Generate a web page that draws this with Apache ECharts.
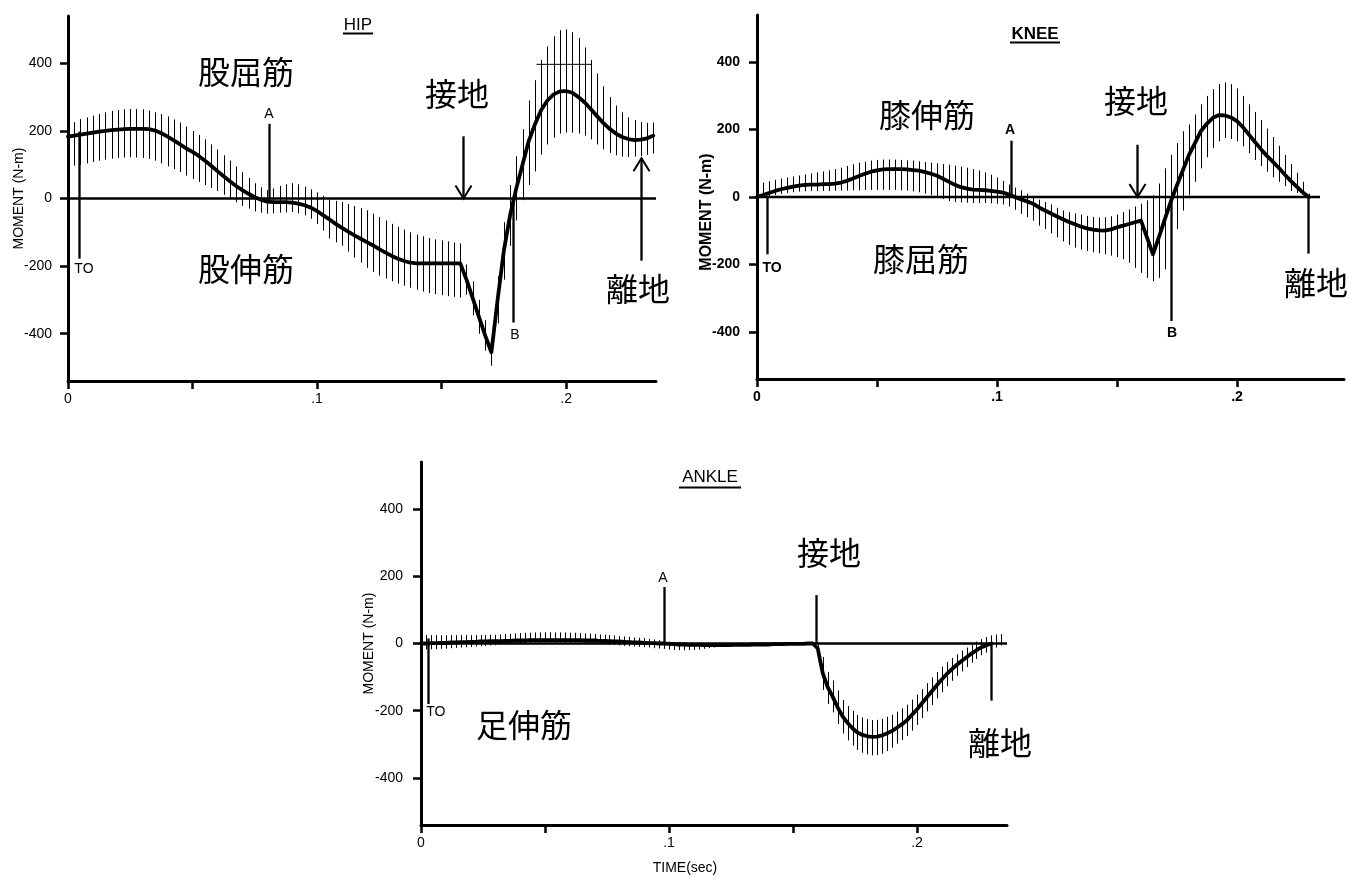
<!DOCTYPE html>
<html><head><meta charset="utf-8">
<script src="https://cdn.jsdelivr.net/npm/echarts@6/dist/echarts.min.js"></script>
<style>html,body{margin:0;padding:0;background:#fff}#c{width:1352px;height:878px}</style>
</head><body><div id="c"></div>
<script>
// ---------------- DATA ----------------
// sample clocks (s)
const TIME_25 = [0,0.0025,0.005,0.0075,0.01,0.0125,0.015,0.0175,0.02,0.0225,0.025,0.0275,0.03,0.0325,0.035,0.0375,0.04,0.0425,0.045,0.0475,0.05,0.0525,0.055,0.0575,0.06,0.0625,0.065,0.0675,0.07,0.0725,0.075,0.0775,0.08,0.0825,0.085,0.0875,0.09,0.0925,0.095,0.0975,0.1,0.1025,0.105,0.1075,0.11,0.1125,0.115,0.1175,0.12,0.1225,0.125,0.1275,0.13,0.1325,0.135,0.1375,0.14,0.1425,0.145,0.1475,0.15,0.1525,0.155,0.1575,0.16,0.1625,0.165,0.1675,0.17,0.1725,0.175,0.1775,0.18,0.1825,0.185,0.1875,0.19,0.1925,0.195,0.1975,0.2,0.2025,0.205,0.2075,0.21,0.2125,0.215,0.2175,0.22,0.2225,0.225,0.2275,0.23,0.2325,0.235];
const TIME_20 = [0,0.002,0.004,0.006,0.008,0.01,0.012,0.014,0.016,0.018,0.02,0.022,0.024,0.026,0.028,0.03,0.032,0.034,0.036,0.038,0.04,0.042,0.044,0.046,0.048,0.05,0.052,0.054,0.056,0.058,0.06,0.062,0.064,0.066,0.068,0.07,0.072,0.074,0.076,0.078,0.08,0.082,0.084,0.086,0.088,0.09,0.092,0.094,0.096,0.098,0.1,0.102,0.104,0.106,0.108,0.11,0.112,0.114,0.116,0.118,0.12,0.122,0.124,0.126,0.128,0.13,0.132,0.134,0.136,0.138,0.14,0.142,0.144,0.146,0.148,0.15,0.152,0.154,0.156,0.158,0.16,0.162,0.164,0.166,0.168,0.17,0.172,0.174,0.176,0.178,0.18,0.182,0.184,0.186,0.188,0.19,0.192,0.194,0.196,0.198,0.2,0.202,0.204,0.206,0.208,0.21,0.212,0.214,0.216,0.218,0.22,0.222,0.224,0.226,0.228,0.23,0.232,0.234];

// HIP moment (N-m): mean, mean+SD, mean-SD
const hipMean = [183,186,189,192,195,198,200,202,204,205, 206,206,206,205,201,193,183,172,160,148, 138,126,112,97,81,66,51,37,25,14, 4,-4,-9,-11,-11,-11,-12,-15,-20,-27, -37,-50,-62,-75,-87,-98,-109,-119,-129,-139, -150,-160,-170,-178,-185,-190,-192,-192,-192,-192, -192,-192,-192,-192,-240,-295,-350,-405,-455,-300, -155,-50,30,100,170,220,262,290,308,317, 318,313,300,284,264,243,223,206,192,182, 176,173,174,178,186];
const hipHigh = [215,226,235,240,245,250,255,259,262,264, 265,265,264,260,255,250,243,234,225,213, 200,188,175,160,145,128,112,95,78,61, 45,33,25,30,37,42,45,42,35,27, 18,8,-3,-7,-10,-16,-22,-28,-35,-45, -55,-65,-75,-84,-92,-100,-107,-112,-117,-121, -124,-127,-130,-133,-195,-245,-300,-360,-415,-230, -70,40,125,205,290,350,410,450,480,498, 500,492,475,447,410,370,332,300,275,255, 240,232,226,224,225];
const hipLow = [95,97,100,104,108,112,115,118,120,121, 122,121,120,117,112,104,95,87,78,68, 58,49,40,31,22,11,0,-11,-22,-30, -38,-42,-45,-44,-42,-41,-40,-44,-50,-60, -75,-95,-118,-130,-140,-157,-175,-190,-205,-217, -228,-237,-245,-252,-258,-264,-270,-275,-280,-283, -286,-289,-291,-293,-285,-345,-400,-450,-495,-370, -240,-140,-65,-5,40,80,130,160,180,192, 195,195,192,186,175,160,145,135,128,124, 123,124,126,129,133];

// KNEE moment (N-m)
const kneeMean = [0,6,12,18,23,27,31,34,36,37, 37,38,38,40,43,48,55,62,69,75, 79,82,83,83,83,82,80,78,74,69, 63,54,45,36,29,25,22,21,20,18, 16,13,7,0,-7,-13,-20,-31,-40,-49, -58,-66,-74,-81,-88,-93,-97,-99,-100,-96, -90,-85,-80,-75,-70,-120,-170,-118,-65,-12, 35,80,125,160,196,218,235,243,242,236, 225,207,185,163,142,122,104,86,66,47, 30,13,0];
const kneeHigh = [30,43,47,51,55,58,61,64,67,70, 73,76,79,83,87,92,97,102,105,108, 110,111,111,111,110,109,108,106,104,102, 100,98,96,93,90,87,83,79,73,66, 58,48,37,28,20,10,0,-8,-15,-22, -32,-40,-45,-49,-52,-56,-59,-61,-60,-57, -52,-45,-37,-28,-20,-10,5,40,85,125, 160,195,215,245,275,300,320,335,340,335, 322,300,275,252,228,203,178,152,125,98, 72,45,10];
const kneeLow = [-5,0,3,6,9,12,14,16,17,18, 18,18,18,18,19,19,20,20,21,21, 21,21,21,21,20,19,17,14,10,5, 0,-6,-12,-15,-16,-17,-18,-18,-18,-19, -20,-22,-28,-38,-50,-60,-70,-85,-95,-108, -120,-132,-142,-150,-156,-160,-164,-167,-170,-174, -178,-185,-195,-210,-225,-240,-250,-240,-215,-160, -95,-40,5,45,85,118,145,165,175,172, 165,150,130,110,92,75,58,45,32,18, 12,8,-5];

// ANKLE moment (N-m)
const ankleMean = [0,0,1,1,2,2,3,3,4,4, 5,5,6,6,7,7,7,8,8,9, 9,9,10,10,10,10,10,10,10,10, 10,10,10,9,9,9,8,8,7,6, 6,5,4,3,3,2,1,1,0,0, -1,-2,-3,-3,-4,-4,-4,-5,-5,-5, -5,-5,-5,-4,-4,-4,-4,-3,-3,-3, -3,-2,-2,-2,-1,-1,-1,-1,0,0, -15,-88,-130,-158,-190,-217,-236,-252,-265,-272, -276,-278,-277,-273,-267,-260,-250,-240,-228,-212, -196,-178,-160,-142,-124,-107,-91,-77,-64,-52, -41,-30,-20,-11,-5,0];
const ankleHigh = [25,25,25,25,25,25,25,25,25,25, 25,25,25,25,26,26,27,28,29,30, 31,32,32,33,33,33,33,33,33,33, 32,32,31,30,29,28,27,26,25,24, 22,21,20,18,17,16,14,12,10,8, 6,4,3,2,1,0,0,-1,-1,-2, -2,-2,-2,-2,-2,-2,-2,-1,-1,-1, -1,0,0,0,1,1,1,1,2,2, 0,-40,-85,-110,-140,-168,-186,-200,-213,-220, -225,-228,-227,-224,-218,-212,-203,-193,-182,-167, -152,-136,-118,-101,-85,-69,-55,-43,-32,-21, -12,-3,6,13,19,24,27,28];
const ankleLow = [-18,-18,-17,-17,-16,-15,-14,-13,-12,-11, -10,-9,-8,-7,-6,-5,-4,-3,-2,-2, -1,-1,0,0,0,0,0,0,0,0, 0,0,0,0,-1,-1,-2,-3,-4,-5, -6,-7,-8,-9,-10,-11,-12,-14,-15,-16, -18,-19,-20,-20,-20,-19,-18,-16,-14,-12, -10,-9,-8,-7,-6,-6,-6,-5,-5,-5, -5,-4,-4,-4,-3,-3,-3,-3,-2,-2, -50,-138,-180,-205,-240,-268,-288,-304,-317,-325, -330,-333,-332,-328,-320,-310,-298,-287,-275,-259, -242,-222,-202,-183,-163,-145,-127,-111,-96,-83, -70,-57,-46,-35,-27,-20,-12,-6];

// tick values / labels
const Y_TICKS = [-400,-200,0,200,400];
const X_TICKS = [0,0.05,0.1,0.15,0.2];
const X_LABEL_VALUES = [0,0.1,0.2];
const X_LABEL_TEXT = ['0','.1','.2'];
const PANEL_TITLES = ['HIP','KNEE','ANKLE'];
const Y_NAME = 'MOMENT (N-m)';
const X_NAME = 'TIME(sec)';

// event markers: [time, from value, to value]; heads: arrowhead at the "to" end
const hipMarkers = [[0.0044,198,-178],[0.0808,221,-8],[0.1788,0,-367],[0.1585,184,0],[0.2302,-184,119]];
const hipHeads = ['none','none','none','down','up'];
const hipBar = [[0.1881,397],[0.2103,397]];
const hipTexts = [['TO',0.0064,-208],['A',0.0807,251],['B',0.1795,-404],['股屈筋',0.0715,376],['股伸筋',0.0715,-208],['接地',0.1562,310],['離地',0.2289,-267]];

const kneeMarkers = [[0.0043,0,-170],[0.1057,167,0],[0.1726,0,-368],[0.1585,155,0],[0.2294,0,-168]];
const kneeHeads = ['none','none','none','down','none'];
const kneeTexts = [['TO',0.00625,-210],['A',0.1054,198],['B',0.1729,-403],['膝伸筋',0.0708,245],['膝屈筋',0.0683,-183],['接地',0.1579,284],['離地',0.2329,-254]];

const ankleMarkers = [[0.0027,15,-180],[0.098,168,0],[0.1593,144,0],[0.2298,0,-170]];
const ankleHeads = ['none','none','none','none'];
const ankleTexts = [['TO',0.006,-205],['A',0.0976,195],['足伸筋',0.0415,-241],['接地',0.1645,269],['離地',0.2335,-297]];

const ZERO_END = [0.2361,0.2346,0.2363];

// ---------------- LAYOUT / STYLE ----------------
const LATIN = '"Liberation Sans", Arial, Helvetica, sans-serif';
const CJK = '"Noto Sans CJK JP", "Noto Sans CJK SC", sans-serif';

const PANELS = [
  {grid:{left:68, top:16, width:588, height:365}, xMax:0.2361, bold:false, nameGap:42, nameSize:14, namePad:[0,0,0,0], yMargin:16,
   time:TIME_25, mean:hipMean, hi:hipHigh, lo:hipLow, markers:hipMarkers, heads:hipHeads, texts:hipTexts, bar:hipBar},
  {grid:{left:757, top:15, width:587, height:364}, xMax:0.2446, bold:true, nameGap:42, nameSize:16, namePad:[0,30,0,0], yMargin:17,
   time:TIME_25, mean:kneeMean, hi:kneeHigh, lo:kneeLow, markers:kneeMarkers, heads:kneeHeads, texts:kneeTexts},
  {grid:{left:421, top:462, width:586, height:363}, xMax:0.2363, bold:false, nameGap:45, nameSize:14, namePad:[0,0,0,0], yMargin:18,
   time:TIME_20, mean:ankleMean, hi:ankleHigh, lo:ankleLow, markers:ankleMarkers, heads:ankleHeads, texts:ankleTexts}
];

const grids = [], xAxes = [], yAxes = [], series = [];

PANELS.forEach((p, k) => {
  const fw = p.bold ? 'bold' : 'normal';
  grids.push(Object.assign({outerBoundsMode:'none', containLabel:false}, p.grid));
  xAxes.push({
    type:'value', gridIndex:k, min:0, max:p.xMax,
    axisLine:{show:true, onZero:false, lineStyle:{color:'#000', width:3}},
    axisTick:{show:true, customValues:X_TICKS, length:8, lineStyle:{color:'#000', width:2.5}},
    axisLabel:{show:true, customValues:X_LABEL_VALUES, margin:11, color:'#000', fontSize:14, fontFamily:LATIN, fontWeight:fw,
      formatter:(v)=>{ let b=0; X_LABEL_VALUES.forEach((x,i)=>{ if (Math.abs(x-v) < Math.abs(X_LABEL_VALUES[b]-v)) b=i; }); return X_LABEL_TEXT[b]; }},
    splitLine:{show:false}
  });
  yAxes.push({
    type:'value', gridIndex:k, min:-540, max:540,
    name:Y_NAME, nameLocation:'middle', nameGap:p.nameGap, nameRotate:90, nameMoveOverlap:false,
    nameTextStyle:{color:'#000', fontSize:p.nameSize, fontFamily:LATIN, fontWeight:fw, padding:p.namePad},
    axisLine:{show:true, onZero:false, lineStyle:{color:'#000', width:3}},
    axisTick:{show:true, customValues:Y_TICKS, length:8, lineStyle:{color:'#000', width:2.5}},
    axisLabel:{show:true, customValues:Y_TICKS, margin:p.yMargin, color:'#000', fontSize:14, fontFamily:LATIN, fontWeight:fw},
    splitLine:{show:false}
  });

  // SD hatch lines
  series.push({
    type:'custom', xAxisIndex:k, yAxisIndex:k, clip:false, silent:true, z:2,
    data:p.hi.map((h,i)=>[p.time[i], p.lo[i], h]),
    encode:{x:0, y:[1,2]},
    renderItem:(params, api)=>{
      const a = api.coord([api.value(0), api.value(1)]);
      const b = api.coord([api.value(0), api.value(2)]);
      const x = Math.round(a[0]) + 0.5;
      return {type:'line', shape:{x1:x, y1:a[1], x2:x, y2:b[1]}, style:{stroke:'#000', lineWidth:1}};
    }
  });
  // zero line
  series.push({
    type:'line', xAxisIndex:k, yAxisIndex:k, silent:true, symbol:'none', z:3,
    data:[[0,0],[ZERO_END[k],0]], lineStyle:{color:'#000', width:2.5}
  });
  // mean curve
  series.push({
    type:'line', xAxisIndex:k, yAxisIndex:k, silent:true, symbol:'none', z:4,
    data:p.mean.map((m,i)=>[p.time[i], m]), lineStyle:{color:'#000', width:3.8, join:'round', cap:'round'}
  });
  // thin bar (hip)
  if (p.bar) series.push({
    type:'line', xAxisIndex:k, yAxisIndex:k, silent:true, symbol:'none', z:4,
    data:p.bar, lineStyle:{color:'#000', width:1}
  });
  // event markers
  series.push({
    type:'custom', xAxisIndex:k, yAxisIndex:k, clip:false, silent:true, z:5,
    data:p.markers.map(m=>[m[0], m[1], m[2]]),
    encode:{x:0, y:[1,2]},
    renderItem:(params, api)=>{
      const a = api.coord([api.value(0), api.value(1)]);
      const b = api.coord([api.value(0), api.value(2)]);
      const x = Math.round(a[0]) + 0.5;
      const children = [{type:'line', shape:{x1:x, y1:a[1], x2:x, y2:b[1]}, style:{stroke:'#000', lineWidth:2.3}}];
      const head = p.heads[params.dataIndex];
      if (head !== 'none') {
        const d = head === 'down' ? -13 : 13;
        children.push({type:'polyline', shape:{points:[[x-8, b[1]+d],[x, b[1]],[x+8, b[1]+d]]}, style:{stroke:'#000', fill:null, lineWidth:2}});
      }
      return {type:'group', children};
    }
  });
  // text annotations
  series.push({
    type:'custom', xAxisIndex:k, yAxisIndex:k, clip:false, silent:true, z:6,
    data:p.texts.map(t=>[t[1], t[2]]),
    encode:{x:0, y:1},
    renderItem:(params, api)=>{
      const item = p.texts[params.dataIndex];
      const pt = api.coord([api.value(0), api.value(1)]);
      const cjk = /[^\x00-\x7f]/.test(item[0]);
      return {type:'text', x:pt[0], y:pt[1], style:{
        text:item[0], fill:'#000',
        fontSize: cjk ? 32 : 14, fontFamily: cjk ? CJK : LATIN, fontWeight: cjk ? 'normal' : fw,
        align:'center', verticalAlign:'middle', textAlign:'center', textVerticalAlign:'middle'}};
    }
  });
});

// panel titles (underlined) + time axis title
const TITLE_POS = [[358,25,343,373,33.5],[1035,34,1010,1060,42.5],[710,477,679,741,487.5]];
const graphic = [];
PANEL_TITLES.forEach((t,i)=>{
  const q = TITLE_POS[i];
  graphic.push({type:'text', x:q[0], y:q[1], style:{text:t, fill:'#000', fontSize:17, fontFamily:LATIN, fontWeight: i===1?'bold':'normal', align:'center', verticalAlign:'middle'}});
  graphic.push({type:'line', shape:{x1:q[2], y1:q[4], x2:q[3], y2:q[4]}, style:{stroke:'#000', lineWidth:2}});
});
graphic.push({type:'text', x:685, y:868, style:{text:X_NAME, fill:'#000', fontSize:14, fontFamily:LATIN, align:'center', verticalAlign:'middle'}});

const chart = echarts.init(document.getElementById('c'), null, {renderer:'canvas'});
chart.setOption({
  animation:false,
  backgroundColor:'#fff',
  grid:grids, xAxis:xAxes, yAxis:yAxes, series, graphic
});
</script></body></html>
